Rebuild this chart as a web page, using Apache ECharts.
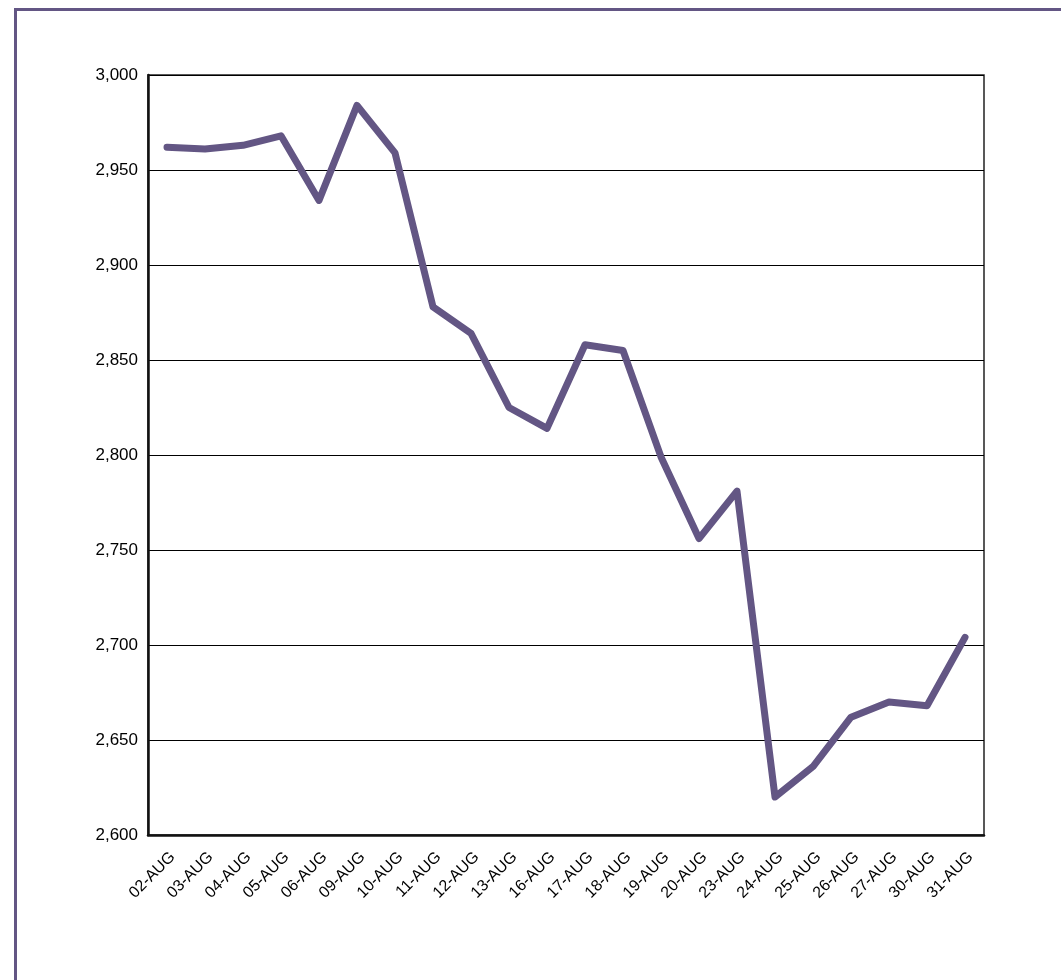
<!DOCTYPE html>
<html><head><meta charset="utf-8">
<script src="https://cdn.jsdelivr.net/npm/echarts@6/dist/echarts.min.js"></script>
<style>html,body{margin:0;padding:0;background:#fff}#c{width:1061px;height:980px}</style>
</head><body><div id="c"></div>
<script>
const categories = ['02-AUG','03-AUG','04-AUG','05-AUG','06-AUG','09-AUG','10-AUG','11-AUG','12-AUG','13-AUG','16-AUG','17-AUG','18-AUG','19-AUG','20-AUG','23-AUG','24-AUG','25-AUG','26-AUG','27-AUG','30-AUG','31-AUG'];
const values = [2962,2961,2963,2968,2934,2984,2959,2878,2864,2825,2814,2858,2855,2799,2756,2781,2620,2636,2662,2670,2668,2704];
const yMin = 2600, yMax = 3000, yStep = 50;

const chart = echarts.init(document.getElementById('c'));
chart.setOption({
  animation: false,
  backgroundColor: '#fff',
  graphic: [{
    type: 'rect', left: 13, top: 7, z: 0,
    shape: { width: 1100, height: 1100 },
    style: { fill: 'none', stroke: '#635684', lineWidth: 3 }
  }],
  grid: { left: 148, right: 77, top: 75, bottom: 145, show: true, borderColor: '#222', borderWidth: 1.5, backgroundColor: 'transparent' },
  xAxis: {
    type: 'category', data: categories, boundaryGap: true,
    axisLine: { lineStyle: { color: '#111', width: 2.5 } },
    axisTick: { show: false },
    axisLabel: { rotate: 45, color: '#000', fontFamily: 'Liberation Sans, Arial', fontSize: 16, interval: 0, margin: 14, verticalAlign: 'top' },
    splitLine: { show: false }
  },
  yAxis: {
    type: 'value', min: yMin, max: yMax, interval: yStep,
    axisLine: { show: true, lineStyle: { color: '#111', width: 2.5 } },
    axisTick: { show: false },
    axisLabel: { color: '#000', fontFamily: 'Liberation Sans, Arial', fontSize: 17, margin: 10,
      formatter: v => v.toLocaleString('en-US') },
    splitLine: { show: true, lineStyle: { color: '#000', width: 1 } }
  },
  series: [{
    type: 'line', data: values, symbol: 'none',
    lineStyle: { color: '#635684', width: 7, cap: 'round', join: 'round' },
    itemStyle: { color: '#635684' }
  }]
});
</script></body></html>
